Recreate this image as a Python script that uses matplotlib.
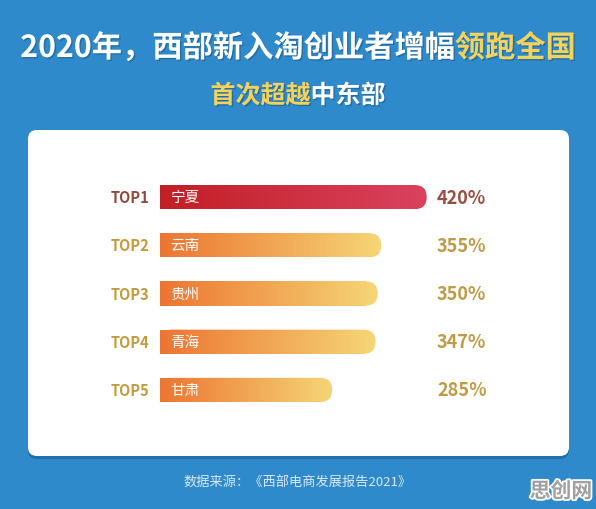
import numpy as np
import matplotlib
matplotlib.use('Agg')
import matplotlib.pyplot as plt
import matplotlib.patheffects as pe
from matplotlib.patches import FancyBboxPatch, Rectangle
from matplotlib.colors import LinearSegmentedColormap

plt.rcParams['font.family'] = ['Noto Sans CJK SC', 'DejaVu Sans']

# --- 데이터 ---
ranks = ['TOP1', 'TOP2', 'TOP3', 'TOP4', 'TOP5']
regions = ['宁夏', '云南', '贵州', '青海', '甘肃']
growth = [420, 355, 350, 347, 285]  # %

title_white = '2020年，西部新入淘创业者增幅'
title_yellow = '领跑全国'
sub_yellow = '首次超越'
sub_white = '中东部'
source = '数据来源：《西部电商发展报告2021》'

# --- 스타일 ---
W, H = 596, 510
BLUE = '#2e8acb'
YELLOW = '#f4d35c'
BASE = 39        # 막대 시작 값 (숨겨진 축)
PX = 0.70        # px per %
red_cmap = LinearSegmentedColormap.from_list('r', ['#c21f25', '#da425f'])
org_cmap = LinearSegmentedColormap.from_list('o', ['#ec7532', '#f6d676'])
shadow = [pe.withSimplePatchShadow(offset=(1, -1), shadow_rgbFace='#103a5c', alpha=0.35)]

fig = plt.figure(figsize=(W / 100, H / 100), dpi=100)
fig.patch.set_facecolor(BLUE)

# 배경 (픽셀 좌표)
bg = fig.add_axes([0, 0, 1, 1])
bg.set_xlim(0, W)
bg.set_ylim(H, 0)
bg.axis('off')
bg.add_patch(FancyBboxPatch((28, 133), 541, 327, boxstyle='round,pad=0,rounding_size=9',
                            fc='#1c649c', ec='none', alpha=0.7))
bg.add_patch(FancyBboxPatch((28, 131), 541, 326, boxstyle='round,pad=0,rounding_size=9',
                            fc='white', ec='none'))

# 제목
r = fig.canvas.get_renderer()
def two_tone(y, left, right, c_left, c_right, size):
    t1 = bg.text(0, y, left, color=c_left, fontsize=size, fontweight='bold', va='center', ha='left',
                 path_effects=shadow)
    t2 = bg.text(0, y, right, color=c_right, fontsize=size, fontweight='bold', va='center', ha='left',
                 path_effects=shadow)
    w1 = t1.get_window_extent(r).width
    w2 = t2.get_window_extent(r).width
    x0 = W / 2 - (w1 + w2) / 2
    t1.set_x(x0)
    t2.set_x(x0 + w1)

two_tone(49, title_white, title_yellow, 'white', YELLOW, 21.8)
two_tone(97, sub_yellow, sub_white, YELLOW, 'white', 18)

bg.text(W / 2, 483, source, color='#dce8f3', fontsize=9.5, ha='center', va='center')
bg.text(561, 492, '思创网', color='#a0a0a0', fontsize=15, fontweight='bold', ha='center', va='center',
        path_effects=[pe.withStroke(linewidth=2.5, foreground='white')])

# 막대 축
ax = fig.add_axes([160 / W, 1 - 415 / H, 400 / W, 241 / H])
ax.patch.set_alpha(0)
ax.axis('off')

rad = 12 / PX
grad = np.linspace(0, 1, 256).reshape(1, -1)
for i, (rank, name, v) in enumerate(zip(ranks, regions, growth)):
    cmap = red_cmap if i == 0 else org_cmap
    y0, y1 = i - 0.25, i + 0.25
    rounded = FancyBboxPatch((BASE, y0), v - BASE, 0.5,
                             boxstyle=f'round,pad=0,rounding_size={rad}',
                             mutation_aspect=0.25 / rad, fc='none', ec='none')
    ax.add_patch(rounded)
    im = ax.imshow(grad, cmap=cmap, extent=[BASE, v, y1, y0], aspect='auto', interpolation='bilinear')
    im.set_clip_path(rounded)
    square = Rectangle((BASE, y0), v - BASE - rad, 0.5, fc='none', ec='none')
    ax.add_patch(square)
    im2 = ax.imshow(grad, cmap=cmap, extent=[BASE, v, y1, y0], aspect='auto', interpolation='bilinear')
    im2.set_clip_path(square)

    ax.annotate(name, (BASE, i), xytext=(7.5, 0), textcoords='offset points',
                color='white', fontsize=10.5, fontweight='medium', ha='left', va='center')
    rank_c = '#8e4a3c' if i == 0 else '#c49a3c'
    ax.annotate(rank, (BASE, i), xytext=(-7.5, 0), textcoords='offset points',
                color=rank_c, fontsize=10.5, fontweight='bold', ha='right', va='center')
    val_c = '#9a4e40' if i == 0 else '#c09b45'
    ax.text((437 - 160) / 400, i, f'{v}%', transform=ax.get_yaxis_transform(),
            color=val_c, fontsize=13, fontweight='bold', ha='left', va='center')

ax.set_xlim(BASE, BASE + 400 / PX)
ax.set_ylim(4.5, -0.5)

fig.savefig('out.png', dpi=100, facecolor=fig.get_facecolor())
